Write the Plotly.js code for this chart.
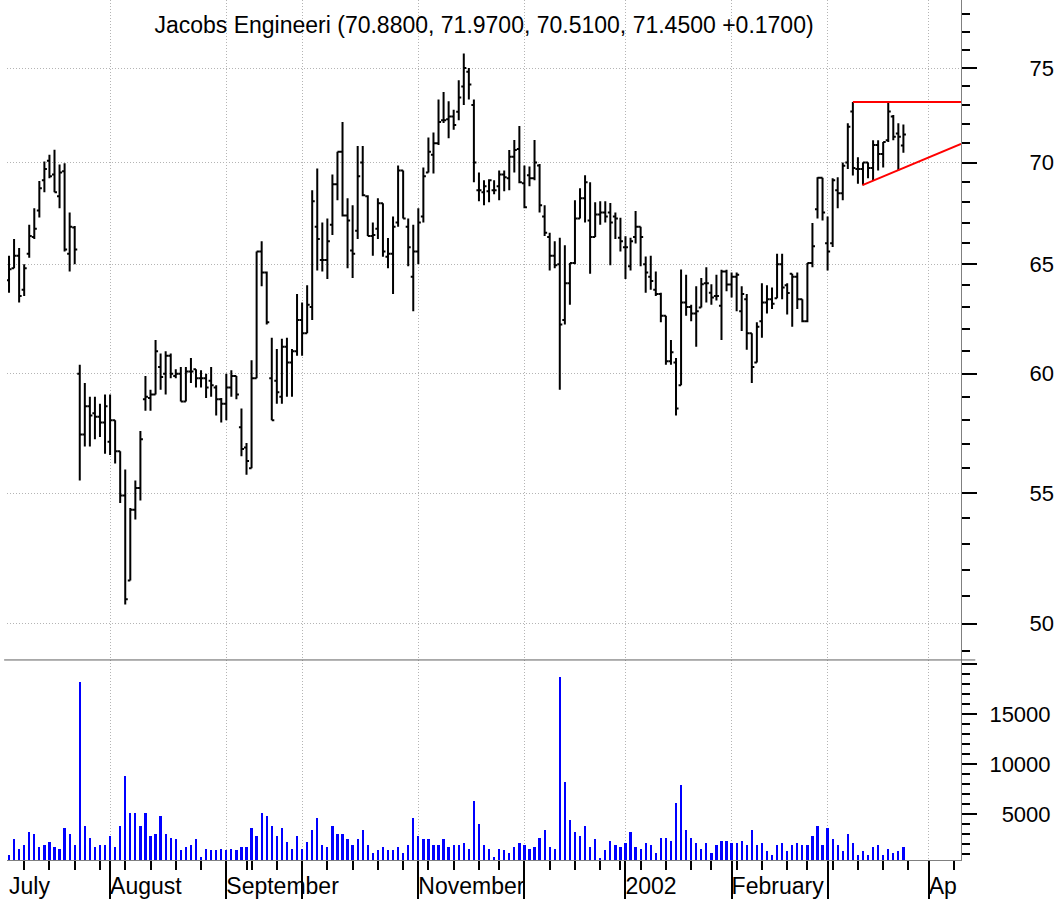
<!DOCTYPE html>
<html><head><meta charset="utf-8">
<script src="https://cdn.plot.ly/plotly-3.0.1.min.js"></script>
<style>html,body{margin:0;padding:0;background:#fff;} #chart{width:1061px;height:903px;}</style>
</head><body><div id="chart"></div>
<script>
const openP = [
64.24,64.80,65.40,63.80,65.50,66.30,67.60,69.10,70.10,69.40,
68.30,69.56,65.50,66.76,60.00,57.40,58.60,58.30,58.15,57.90,
57.10,58.00,56.70,54.90,51.60,54.33,55.20,58.90,58.95,59.10,
60.30,60.00,60.80,59.90,60.00,58.80,60.10,60.20,59.80,59.80,
59.70,59.40,58.90,58.70,59.40,59.90,57.70,56.86,56.00,59.80,
65.60,64.60,59.80,59.70,59.00,61.20,60.50,61.00,62.40,61.80,
63.00,66.80,65.20,65.20,66.90,68.90,70.55,67.35,65.65,66.60,
70.00,68.30,66.35,66.70,67.95,65.35,65.50,67.00,69.60,66.80,
64.40,65.60,67.30,69.50,70.40,71.00,72.20,72.25,72.40,72.65,
74.00,74.80,73.00,68.60,68.50,68.55,68.60,68.80,69.40,69.20,
70.30,70.70,68.95,69.35,69.20,69.85,67.30,66.30,65.40,65.00,
62.40,64.10,65.05,67.20,68.20,67.10,66.30,67.40,67.50,67.50,
67.30,66.26,65.80,64.90,66.30,66.80,65.00,64.40,63.80,63.60,
62.60,60.55,60.50,59.50,63.20,63.00,62.70,62.97,64.10,63.66,
63.50,63.05,64.65,64.04,64.40,62.80,63.35,61.80,60.50,62.35,
63.20,63.35,63.40,65.00,64.00,64.55,64.40,63.35,62.35,65.05,
67.66,69.23,66.00,66.00,68.60,68.45,70.00,72.66,69.67,69.67,
70.00,69.72,70.90,70.44,71.15,72.40,71.50,70.88];
const highP = [
65.40,66.20,65.77,65.00,66.90,67.70,69.06,70.05,70.40,70.66,
69.90,69.97,67.50,66.84,60.40,59.60,59.00,59.00,58.70,59.10,
59.10,58.00,56.70,55.95,54.40,55.50,57.55,59.90,59.30,61.50,
60.90,61.00,60.90,60.20,60.30,60.30,60.70,60.20,60.15,60.00,
60.30,59.50,58.95,60.00,60.15,59.90,58.50,57.04,60.60,65.60,
66.10,64.65,61.60,61.10,61.55,61.60,61.10,63.60,63.20,64.00,
68.60,69.70,67.00,67.20,69.40,70.55,72.10,68.20,67.85,70.85,
70.85,68.35,67.00,68.20,67.95,66.25,67.30,69.85,69.60,67.20,
66.90,67.70,69.75,71.30,71.55,73.30,73.70,73.20,72.75,74.33,
75.80,75.00,73.30,69.50,69.10,69.15,69.10,69.60,69.60,70.64,
71.17,71.90,69.85,69.80,71.17,69.93,67.85,66.50,66.10,66.26,
65.90,65.05,68.10,68.70,69.35,69.00,68.00,68.05,68.05,67.97,
67.50,67.24,66.34,66.26,67.57,66.80,65.36,65.40,64.65,63.66,
62.60,61.50,60.70,64.75,64.50,63.10,63.96,64.35,64.85,64.05,
64.50,64.73,64.73,64.60,64.60,63.96,63.60,61.80,62.30,64.10,
64.00,63.90,65.50,65.50,64.10,64.55,64.60,63.35,65.05,66.98,
69.26,69.23,67.30,69.20,69.26,70.00,72.04,73.17,70.27,70.00,
70.00,71.15,71.15,71.06,73.17,72.48,72.04,71.97];
const lowP = [
63.66,64.80,63.20,63.50,65.30,66.20,67.25,68.50,69.20,68.50,
67.70,65.60,64.65,65.00,55.50,56.90,56.90,57.20,57.30,56.60,
56.55,56.20,54.60,50.70,51.60,53.95,54.70,58.40,58.40,59.10,
59.30,59.10,59.80,59.80,58.80,58.80,59.60,59.40,59.40,58.95,
59.00,58.20,57.90,58.00,59.00,58.90,56.50,55.74,56.00,59.80,
63.96,62.20,58.00,58.70,58.70,59.00,59.00,60.80,60.80,61.80,
62.40,64.70,64.65,64.30,66.40,68.10,67.30,64.80,64.35,66.20,
68.30,66.35,65.40,66.20,65.35,64.80,63.60,66.80,67.20,64.90,
62.80,65.00,67.00,69.50,69.45,70.90,72.05,71.25,71.70,72.20,
73.00,73.30,69.00,68.05,67.85,68.00,68.40,68.10,68.55,68.60,
69.50,68.95,67.70,68.80,69.10,67.50,66.35,64.70,64.80,59.30,
62.20,63.10,65.00,67.20,67.00,64.55,66.30,66.90,67.00,64.95,
66.20,65.60,64.30,64.70,65.98,64.90,63.66,63.80,63.50,62.30,
60.40,60.40,58.20,59.50,62.60,62.35,61.20,62.97,63.20,63.10,
63.30,61.50,63.73,63.43,62.80,61.90,61.06,59.60,60.50,61.60,
62.70,62.90,63.40,63.35,62.65,62.10,62.90,62.30,62.30,64.85,
67.20,67.10,64.70,65.82,67.70,68.10,69.67,69.34,68.93,68.85,
69.20,69.10,69.60,69.75,71.06,71.15,69.60,70.51];
const closeP = [
64.76,65.40,63.50,64.80,66.35,66.70,68.70,69.67,69.30,68.50,
69.50,65.70,66.80,65.70,57.40,58.60,58.20,58.15,57.90,58.60,
58.00,56.70,54.90,50.90,54.33,55.20,57.20,59.00,59.10,61.00,
59.86,60.80,60.00,60.00,58.80,60.10,60.10,59.80,59.80,59.40,
59.50,58.90,58.70,59.40,59.90,59.10,56.80,56.30,59.80,65.60,
64.60,62.30,58.00,59.20,61.20,60.50,61.00,62.40,61.80,63.10,
68.05,66.20,65.20,66.10,68.90,70.55,67.35,67.10,65.50,69.30,
68.35,66.35,66.40,67.95,65.60,65.50,66.80,69.60,67.20,65.80,
65.60,67.00,69.30,70.55,71.00,72.10,72.20,72.40,71.95,73.40,
75.00,74.10,70.00,68.60,68.80,69.10,68.60,69.40,69.25,70.30,
70.64,69.00,67.75,69.20,70.00,67.85,66.50,65.40,64.95,62.20,
64.10,65.05,67.20,68.20,69.00,66.30,67.40,67.50,67.30,67.00,
67.20,66.10,65.80,66.10,66.80,66.30,64.60,64.20,63.60,62.60,
60.55,60.95,58.50,63.20,63.00,62.70,62.80,64.05,64.10,63.43,
63.50,64.65,64.04,64.40,64.50,63.60,61.80,60.30,62.10,63.20,
63.35,63.15,65.00,63.90,63.65,64.40,63.35,62.35,65.05,65.85,
69.23,67.50,65.60,69.10,68.45,69.84,71.86,69.72,69.67,70.00,
69.72,70.90,70.44,71.06,72.66,71.33,71.33,71.45];
const volume = [
900,2470,1470,1900,3230,3000,1670,1900,2230,1670,
1470,3630,3000,1900,18230,3800,2630,1670,1900,1900,
2830,1670,3800,8830,5130,5130,3800,5130,2830,3000,
4800,3000,2630,2470,1400,1670,1900,2470,730,1470,
1400,1400,1470,1400,1470,1400,1670,1670,3630,2830,
5130,4800,3800,2830,3630,2230,1470,2830,1470,2230,
3400,4570,1900,1670,3800,3000,3000,2470,1900,2470,
3400,1900,1130,1400,1670,1400,1400,1670,1130,1900,
4570,2830,2470,2470,1900,1900,2470,1670,1900,1900,
2070,1470,6300,4000,1900,1470,730,1470,1400,1130,
1670,2070,1900,1470,1670,2630,3400,1670,1470,18730,
8230,4370,3230,2830,3800,1670,2470,570,1400,2300,
1900,1670,2070,3230,1670,1470,2070,1900,1130,2630,
2630,2300,6130,7900,3400,2630,2070,1500,2070,1130,
1870,2270,2270,2070,2070,2270,1870,3430,1870,2070,
1300,900,1870,2070,1300,1870,2070,1870,1870,2830,
3800,1870,3630,2470,1870,1300,3030,2070,900,1300,
900,1700,1870,900,1500,1100,1300,1700];

// trading-day index of the first session of each month, and its label
const monthStartIdx = [0, 20, 43, 58, 81, 102, 122, 143, 162, 182];
const monthLabels = ['July', 'August', 'September', '', 'November', '', '2002', 'February', '', 'Ap'];
// first session of each week
const weekStartIdx = [3,8,13,18,23,28,33,38,47,48,53,63,68,73,78,83,88,93,97,107,112,117,121,125,130,135,139,144,149,154,158,163,168,173,178,187];

const priceTicks = [50, 55, 60, 65, 70, 75];
const priceMinorTicks = [49,51,52,53,54,56,57,58,59,61,62,63,64,66,67,68,69,71,72,73,74,76,77,78];
const volTicks = [5000, 10000, 15000, 20000];
const volTickText = ['\u20075000', '10000', '15000', ''];

const resistX = [167, 188.4], resistY = [73.17, 73.17];
const supportX = [168.9, 188.4], supportY = [68.86, 70.96];

const titleText = 'Jacobs Engineeri (70.8800, 71.9700, 70.5100, 71.4500 +0.1700)';

const idx = openP.map((_, i) => i);
const X_RANGE = [-0.4, 188.4];
const FONT = 'Liberation Sans, Arial, sans-serif';
const GRID = '#b4b4b4';
const AXIS = '#808080';
const SPLIT = 0.2326;

const majorIdx = monthStartIdx.slice(1);
const labelIdx = monthStartIdx.filter((_, i) => monthLabels[i] !== '');
const labelText = monthLabels.filter(t => t !== '');

const traces = [
  {type: 'ohlc', x: idx, open: openP, high: highP, low: lowP, close: closeP,
   xaxis: 'x', yaxis: 'y', tickwidth: 0.5, hoverinfo: 'skip',
   increasing: {line: {color: '#000000', width: 2}},
   decreasing: {line: {color: '#000000', width: 2}}},
  {type: 'scatter', mode: 'lines', x: resistX, y: resistY, xaxis: 'x', yaxis: 'y',
   line: {color: '#ff0000', width: 2}, hoverinfo: 'skip', cliponaxis: true},
  {type: 'scatter', mode: 'lines', x: supportX, y: supportY, xaxis: 'x', yaxis: 'y',
   line: {color: '#ff0000', width: 2}, hoverinfo: 'skip', cliponaxis: true},
  {type: 'bar', x: idx, y: volume, xaxis: 'x2', yaxis: 'y2', width: 0.45,
   marker: {color: '#0000ff', line: {width: 0}}, hoverinfo: 'skip'},
  {type: 'scatter', mode: 'markers', x: [labelIdx[0]], y: [null], xaxis: 'x3', yaxis: 'y2',
   hoverinfo: 'skip', marker: {opacity: 0}}
];

const layout = {
  width: 1061, height: 903,
  margin: {l: 7, r: 100, t: 0, b: 43, pad: 0},
  paper_bgcolor: '#ffffff', plot_bgcolor: '#ffffff',
  showlegend: false, bargap: 0,
  font: {family: FONT, color: '#000000'},
  title: {text: titleText, x: 0.5, xref: 'paper', xanchor: 'center',
          y: 1 - 25 / 903, yref: 'container', yanchor: 'middle',
          font: {family: FONT, size: 23, color: '#000000'}},
  xaxis: {domain: [0, 1], anchor: 'y', range: X_RANGE, rangeslider: {visible: false},
          tickmode: 'array', tickvals: majorIdx, showticklabels: false, ticks: '',
          showgrid: true, gridcolor: GRID, griddash: '1px,2px', gridwidth: 1,
          zeroline: false, showline: false},
  xaxis2: {domain: [0, 1], anchor: 'y2', matches: 'x', range: X_RANGE,
           tickmode: 'array', tickvals: majorIdx, showticklabels: false,
           ticks: 'outside', ticklen: 38, tickwidth: 2, tickcolor: '#000000',
           showgrid: true, gridcolor: GRID, griddash: '1px,2px', gridwidth: 1,
           zeroline: false, showline: true, linecolor: AXIS, linewidth: 1,
           minor: {tickmode: 'array', tickvals: weekStartIdx, ticks: 'outside', ticklen: 9,
                   tickwidth: 2, tickcolor: '#000000', showgrid: false}},
  xaxis3: {overlaying: 'x2', anchor: 'y2', range: X_RANGE,
           tickmode: 'array', tickvals: labelIdx, ticktext: labelText,
           ticks: '', showgrid: false, zeroline: false, showline: false,
           ticklabelposition: 'outside right', ticklabelstandoff: 10,
           tickfont: {family: FONT, size: 23, color: '#000000'}},
  yaxis: {domain: [SPLIT, 1], anchor: 'x', type: 'log', side: 'right',
          range: [Math.log10(48.69), Math.log10(78.82)],
          tickmode: 'array', tickvals: priceTicks, ticktext: priceTicks.map(String),
          ticks: 'outside', ticklen: 15, tickwidth: 2, tickcolor: '#000000',
          showgrid: true, gridcolor: GRID, griddash: '1px,2px', gridwidth: 1,
          zeroline: false, showline: true, linecolor: AXIS, linewidth: 1,
          ticklabelstandoff: 48,
          tickfont: {family: FONT, size: 22, color: '#000000'},
          minor: {tickmode: 'array', tickvals: priceMinorTicks, ticks: 'outside', ticklen: 8,
                  tickwidth: 2, tickcolor: '#000000', showgrid: false}},
  yaxis2: {domain: [0, SPLIT], anchor: 'x2', side: 'right', range: [400, 20400],
           tickmode: 'array', tickvals: volTicks, ticktext: volTickText,
           ticks: 'outside', ticklen: 15, tickwidth: 2, tickcolor: '#000000',
           showgrid: false, zeroline: false, showline: true, linecolor: AXIS, linewidth: 1,
           ticklabelstandoff: 8,
           tickfont: {family: FONT, size: 22, color: '#000000'},
           minor: {tickmode: 'linear', tick0: 0, dtick: 1000, ticks: 'outside', ticklen: 8,
                   tickwidth: 2, tickcolor: '#000000', showgrid: false}},
  shapes: [
    {type: 'line', xref: 'paper', yref: 'paper', x0: -0.003, x1: 1.015, y0: SPLIT, y1: SPLIT,
     line: {color: '#606060', width: 1}}
  ]
};

Plotly.newPlot('chart', traces, layout, {displayModeBar: false, staticPlot: true});
</script>
</body></html>
